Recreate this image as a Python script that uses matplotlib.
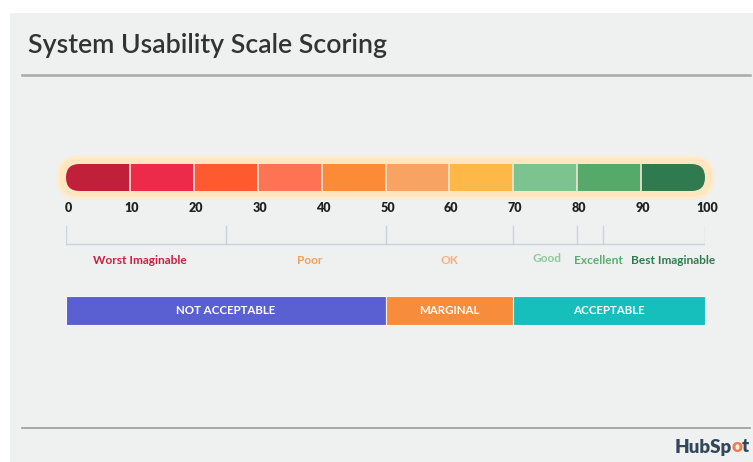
import matplotlib
matplotlib.use("Agg")
import matplotlib.pyplot as plt
from matplotlib.patches import Rectangle, FancyBboxPatch
from matplotlib.lines import Line2D

# ---- data ----
score_ticks = [0, 10, 20, 30, 40, 50, 60, 70, 80, 90, 100]
segment_colors = ["#c0203a", "#ee2a4b", "#fd5a2f", "#fe7352", "#fd8a36",
                  "#f8a363", "#fdb847", "#7bc48f", "#56aa69", "#2f7a4e"]
adjective_bounds = [0, 25, 50, 70, 80, 84, 100]
adjective_labels = ["Worst Imaginable", "Poor", "OK", "Good", "Excellent", "Best Imaginable"]
adjective_label_x = [11.5, 38.2, 60.0, 75.3, 83.4, 95.0]
adjective_colors = ["#c8203f", "#f5a05a", "#f8b07c", "#8dcb9b", "#5aae6e", "#2f7a4e"]
accept_bounds = [0, 50, 70, 100]
accept_labels = ["NOT ACCEPTABLE", "MARGINAL", "ACCEPTABLE"]
accept_colors = ["#5a5fd1", "#f78c3c", "#16bfbc"]

W, H = 753, 462
BG = "#eff0f0"
FONT = "Lato"

fig = plt.figure(figsize=(W / 100, H / 100), dpi=100)
fig.patch.set_facecolor("white")

def fx(px):
    return px / W

def fy(py):
    return 1 - py / H

# grey slide background
fig.patches.append(Rectangle((fx(10), 0), 1 - fx(10), fy(13), transform=fig.transFigure,
                             facecolor=BG, edgecolor="none", zorder=-5))
# title and rules
fig.text(fx(28), fy(46), "System Usability Scale Scoring", fontsize=19.3, family=FONT,
         color="#333333", va="center", ha="left", fontweight="semibold")
fig.add_artist(Line2D([fx(22), fx(750)], [fy(75), fy(75)], transform=fig.transFigure,
                      color="#a9a9a9", lw=1.8))
fig.add_artist(Line2D([fx(22), fx(750)], [fy(428), fy(428)], transform=fig.transFigure,
                      color="#9a9a9a", lw=1.2))
# HubSpot logo text
hx, hy = fx(675), fy(447)
t1 = fig.text(hx, hy, "HubSp", fontsize=13.5, family=FONT, fontweight="heavy",
              color="#33475b", va="center", ha="left")
fig.canvas.draw()
bb = t1.get_window_extent()
t2 = fig.text((bb.x1 - 1) / W, hy, "o", fontsize=13.5, family=FONT, fontweight="heavy",
              color="#f07a4a", va="center", ha="left")
fig.canvas.draw()
bb2 = t2.get_window_extent()
fig.text((bb2.x1 - 0.5) / W, hy, "t", fontsize=13.5, family=FONT, fontweight="heavy",
         color="#33475b", va="center", ha="left")

# ---- main axes: x = score, y = pixel rows ----
x0_px, x1_px = 66, 705
top_px, bot_px = 140, 345
ax = fig.add_axes([fx(x0_px), fy(bot_px), (x1_px - x0_px) / W, (bot_px - top_px) / H])
ax.set_zorder(2)
ax.set_xlim(0, 100)
ax.set_ylim(bot_px, top_px)
ax.axis("off")
ax.patch.set_alpha(0)

px_per_x = (x1_px - x0_px) / 100.0
aspect = px_per_x  # y units are pixels

# glow behind bar
gl_l, gl_r, gl_t, gl_b = -8 / px_per_x, 100 + 8 / px_per_x, 157, 198
gr = (gl_b - gl_t) / 2 / px_per_x
glow = FancyBboxPatch((gl_l, gl_t), gl_r - gl_l, gl_b - gl_t,
                      boxstyle=f"round,pad=0,rounding_size={gr}",
                      mutation_aspect=aspect, facecolor="#fde6c0",
                      edgecolor="#fdeccf", lw=2, clip_on=False, zorder=1)
ax.add_patch(glow)

bar_t, bar_b = 164, 191
br = (bar_b - bar_t) / 2 / px_per_x
clip = FancyBboxPatch((0, bar_t), 100, bar_b - bar_t,
                      boxstyle=f"round,pad=0,rounding_size={br}",
                      mutation_aspect=aspect, facecolor="none", edgecolor="none",
                      transform=ax.transData)
ax.add_patch(clip)
for i, c in enumerate(segment_colors):
    r = Rectangle((score_ticks[i], bar_t), score_ticks[i + 1] - score_ticks[i], bar_b - bar_t,
                  facecolor=c, edgecolor="none", zorder=2, clip_on=True)
    ax.add_patch(r)
    r.set_clip_path(clip)
for v in score_ticks[1:-1]:
    ax.plot([v, v], [bar_t, bar_b], color="#f6e6d6", lw=1.2, zorder=3)

for v in score_ticks:
    ax.text(v + 0.3, 208, str(v), ha="center", va="center", fontsize=9,
            family=FONT, fontweight="heavy", color="#222222")

# adjective brackets
bracket_c = "#c9d4dd"
ax.plot([adjective_bounds[0], adjective_bounds[-1]], [244, 244], color=bracket_c, lw=1)
for v in adjective_bounds:
    ax.plot([v, v], [226, 244], color=bracket_c, lw=1)
for lab, x, c in zip(adjective_labels, adjective_label_x, adjective_colors):
    yy = 258.5 if lab == "Good" else 260
    ax.text(x, yy, lab, ha="center", va="center", fontsize=8.6, family=FONT,
            fontweight="bold", color=c)

# acceptability bar
for i, (lab, c) in enumerate(zip(accept_labels, accept_colors)):
    a, b = accept_bounds[i], accept_bounds[i + 1]
    ax.add_patch(Rectangle((a, 296), b - a, 29, facecolor=c, edgecolor="#f4f4f4",
                           lw=0.8, zorder=2))
    ax.text((a + b) / 2, 310.5, lab, ha="center", va="center", fontsize=8.3,
            family=FONT, fontweight="bold", color="white", zorder=3)

fig.savefig("out.png", dpi=100, facecolor=fig.get_facecolor())
